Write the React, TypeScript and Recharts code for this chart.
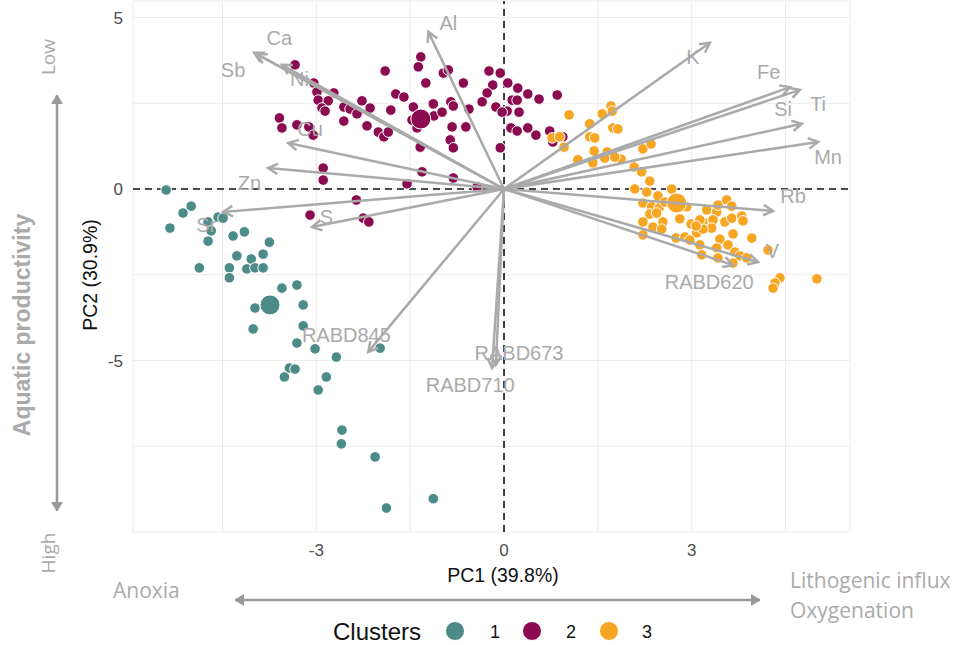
import { ScatterChart, Scatter, XAxis, YAxis, CartesianGrid, ReferenceLine } from 'recharts';

// PCA scores per cluster (PC1, PC2)
const cluster1PC1 = [-5.40, -5.00, -5.13, -5.34, -4.73, -4.57, -4.49, -4.68, -4.73, -4.33, -4.15, -3.75, -4.27, -4.04, -3.85, -4.87, -4.39, -4.11, -3.98, -3.85, -4.39, -3.55, -3.31, -3.98, -3.21, -4.01, -3.21, -3.31, -3.02, -2.68, -1.98, -3.43, -3.34, -3.51, -2.84, -2.97, -2.59, -2.60, -2.06, -1.13, -1.88];
const cluster1PC2 = [-0.03, -0.50, -0.70, -1.14, -0.96, -0.82, -0.85, -1.22, -1.52, -1.37, -1.25, -1.55, -1.95, -2.04, -1.90, -2.30, -2.30, -2.33, -2.30, -2.30, -2.59, -2.89, -2.80, -3.47, -3.38, -4.08, -3.99, -4.49, -4.66, -4.90, -4.64, -5.22, -5.25, -5.48, -5.48, -5.86, -7.03, -7.43, -7.81, -9.03, -9.30];

const cluster2PC1 = [-3.34, -3.04, -2.99, -2.72, -2.97, -2.81, -2.91, -2.86, -3.59, -3.55, -3.31, -3.12, -3.05, -2.56, -2.46, -2.35, -2.27, -2.14, -2.56, -2.19, -2.01, -1.92, -1.85, -1.81, -1.90, -1.73, -1.60, -1.45, -1.47, -1.39, -1.34, -1.33, -1.37, -1.25, -1.13, -1.12, -0.99, -0.97, -0.89, -0.85, -0.81, -0.83, -0.86, -0.81, -2.89, -2.89, -1.31, -1.55, -0.81, -2.36, -0.65, -0.24, -0.06, -0.18, -0.27, -0.35, 0.06, 0.22, 0.38, 0.56, 0.85, 0.13, 0.21, -0.13, 0.05, 0.24, -0.03, -0.56, -0.61, -0.06, 0.11, 0.21, 0.38, 0.51, 0.73, 0.78, 0.94, -0.43, -3.10, -2.25, -2.16];
const cluster2PC2 = [3.62, 3.09, 2.83, 2.80, 2.59, 2.57, 2.36, 2.27, 2.07, 1.78, 1.87, 1.81, 1.57, 2.39, 2.33, 2.19, 2.57, 2.36, 1.98, 1.84, 1.66, 1.52, 1.66, 2.30, 3.44, 2.77, 2.68, 2.39, 2.01, 1.78, 1.22, 3.85, 3.56, 3.09, 2.48, 2.13, 2.24, 3.38, 3.47, 2.54, 2.42, 1.81, 1.43, 1.20, 0.61, 0.26, 0.50, 0.15, 0.32, -0.32, 3.09, 3.44, 3.38, 3.03, 2.80, 2.54, 3.09, 2.94, 2.77, 2.62, 2.74, 2.59, 2.59, 2.39, 2.27, 2.24, 2.24, 2.33, 1.81, 1.20, 1.78, 1.69, 1.78, 1.57, 1.69, 1.37, 1.52, 0.06, -0.76, -0.85, -0.96];

const cluster3PC1 = [0.77, 0.89, 1.04, 0.96, 1.37, 1.57, 1.71, 1.73, 1.74, 1.82, 1.37, 1.45, 1.44, 1.65, 1.61, 1.18, 1.42, 1.87, 1.77, 2.22, 2.35, 2.08, 2.20, 2.33, 2.09, 2.28, 2.68, 2.46, 2.22, 2.36, 2.48, 2.33, 2.44, 2.54, 2.22, 2.38, 2.52, 2.22, 2.81, 2.75, 2.99, 3.08, 3.18, 3.24, 3.40, 3.42, 3.56, 3.64, 3.34, 3.53, 3.64, 3.80, 3.82, 3.32, 3.18, 3.45, 3.66, 3.96, 2.89, 2.97, 3.13, 3.40, 3.58, 3.69, 3.77, 3.88, 3.16, 3.42, 3.66, 4.22, 4.41, 4.33, 4.30, 5.00, 2.57, 2.92, 3.13, 3.07];
const cluster3PC2 = [1.49, 1.52, 2.16, 1.22, 1.90, 2.19, 2.42, 2.27, 1.78, 1.75, 1.52, 1.49, 1.11, 1.08, 0.90, 0.85, 0.76, 0.87, 0.93, 1.17, 1.31, 0.64, 0.50, 0.23, 0.00, -0.09, 0.00, -0.20, -0.41, -0.52, -0.55, -0.73, -0.70, -0.96, -0.96, -1.11, -1.17, -1.34, -0.87, -1.43, -1.02, -1.28, -0.96, -0.61, -0.67, -0.47, -0.32, -0.50, -0.90, -0.96, -0.85, -0.79, -0.93, -1.14, -1.17, -1.46, -1.31, -1.43, -1.40, -1.49, -1.63, -1.72, -1.63, -1.84, -1.95, -2.01, -1.92, -2.01, -2.16, -1.78, -2.59, -2.74, -2.89, -2.62, -0.38, -0.52, -0.90, -1.08];

// cluster centres
const centroidPC1 = [-3.74, -1.33, 2.76];
const centroidPC2 = [-3.38, 2.04, -0.41];

// variable loadings (arrow tips) and where their names sit
const loadingNames = ['Al', 'Ca', 'Sb', 'Ni', 'Cu', 'Zn', 'Sr', 'S', 'RABD845', 'RABD673', 'RABD710', 'K', 'Fe', 'Ti', 'Si', 'Mn', 'Rb', 'V', 'RABD620'];
const loadingPC1 = [-1.21, -3.99, -3.95, -3.55, -3.45, -3.77, -4.49, -3.07, -2.17, -0.13, -0.19, 3.29, 4.57, 4.73, 4.76, 5.02, 4.30, 4.06, 3.66];
const loadingPC2 = [4.58, 3.97, 3.93, 3.62, 1.34, 0.61, -0.67, -1.11, -4.75, -5.13, -5.22, 4.26, 2.97, 2.89, 1.90, 1.37, -0.64, -2.13, -2.22];
const labelPC1 = [-0.89, -3.59, -4.33, -3.27, -3.10, -4.07, -4.76, -2.84, -2.52, 0.24, -0.54, 3.02, 4.23, 5.02, 4.46, 5.18, 4.62, 4.29, 3.28];
const labelPC2 = [4.84, 4.40, 3.47, 3.20, 1.75, 0.18, -1.06, -0.82, -4.27, -4.78, -5.72, 3.85, 3.41, 2.49, 2.33, 0.93, -0.21, -1.80, -2.71];

const xTicks = [-4.5, -3, -1.5, 0, 1.5, 3, 4.5];
const yTicks = [-7.5, -5, -2.5, 0, 2.5, 5];
const xTickLabels = [-3, 0, 3];
const yTickLabels = [-5, 0, 5];

const clusterNames = ['1', '2', '3'];
const clusterColors = ['#4D8B89', '#8B0B50', '#F7A624'];

const toPoints = (xs: number[], ys: number[]) => xs.map((x, i) => ({ x, y: ys[i] }));

const clusters = [
  toPoints(cluster1PC1, cluster1PC2),
  toPoints(cluster2PC1, cluster2PC2),
  toPoints(cluster3PC1, cluster3PC2),
];
const centroids = toPoints(centroidPC1, centroidPC2);
const loadingLabels = loadingNames.map((name, i) => ({ name, x: labelPC1[i], y: labelPC2[i] }));

const GREY = '#aaaaaa';
const SANS = '"Liberation Sans", Arial, sans-serif';
const SOFT = '"Open Sans", "Noto Sans", sans-serif';

const dot = (color: string, r: number) => (p: any) =>
  <circle cx={p.cx} cy={p.cy} r={r} fill={color} stroke="#fff" strokeWidth={1} />;

function LoadingArrow(p: any) {
  const { x1, y1, x2, y2 } = p;
  const a = Math.atan2(y2 - y1, x2 - x1);
  const len = 11;
  const spread = 0.5;
  const ax = x2 - len * Math.cos(a - spread);
  const ay = y2 - len * Math.sin(a - spread);
  const bx = x2 - len * Math.cos(a + spread);
  const by = y2 - len * Math.sin(a + spread);
  return (
    <g>
      <line x1={x1} y1={y1} x2={x2} y2={y2} stroke={GREY} strokeWidth={2.5} />
      <polyline points={`${ax},${ay} ${x2},${y2} ${bx},${by}`} fill="none" stroke={GREY} strokeWidth={2.5} />
    </g>
  );
}

function LoadingLabel(p: any) {
  return (
    <text x={p.cx} y={p.cy} textAnchor="middle" dominantBaseline="central"
      fontFamily={SANS} fontSize={20} fill={GREY}>
      {p.payload.name}
    </text>
  );
}

function DoubleArrow({ x1, y1, x2, y2 }: { x1: number; y1: number; x2: number; y2: number }) {
  const a = Math.atan2(y2 - y1, x2 - x1);
  const head = (x: number, y: number, dir: number) => {
    const len = 10, w = 0.55;
    const p1 = `${x - len * Math.cos(dir - w)},${y - len * Math.sin(dir - w)}`;
    const p2 = `${x - len * Math.cos(dir + w)},${y - len * Math.sin(dir + w)}`;
    return <polygon points={`${x},${y} ${p1} ${p2}`} fill="#999" stroke="#999" strokeWidth={1} />;
  };
  return (
    <g>
      <line x1={x1} y1={y1} x2={x2} y2={y2} stroke="#999" strokeWidth={2.5} />
      {head(x2, y2, a)}
      {head(x1, y1, a + Math.PI)}
    </g>
  );
}

export default function App() {
  return (
    <div style={{ position: 'absolute', left: 0, top: 0, width: 966, height: 645, background: '#fff' }}>
      <ScatterChart width={966} height={645} margin={{ top: 1, right: 116, bottom: 83, left: 73 }}>
        <CartesianGrid stroke="#ebebeb" strokeWidth={1} />
        <XAxis
          type="number"
          dataKey="x"
          domain={[-5.93, 5.53]}
          allowDataOverflow
          ticks={xTicks}
          height={30}
          axisLine={false}
          tickLine={false}
          tickSize={0}
          tickMargin={12}
          tick={{ fontSize: 17, fill: '#4d4d4d', fontFamily: SANS }}
          tickFormatter={(v: number) => (xTickLabels.includes(v) ? String(v) : '')}
        />
        <YAxis
          type="number"
          dataKey="y"
          domain={[-10, 5.48]}
          allowDataOverflow
          ticks={yTicks}
          width={60}
          axisLine={false}
          tickLine={false}
          tickSize={0}
          tickMargin={10}
          tick={{ fontSize: 17, fill: '#4d4d4d', fontFamily: SANS }}
          tickFormatter={(v: number) => (yTickLabels.includes(v) ? String(v) : '')}
        />
        <ReferenceLine x={0} stroke="#111" strokeWidth={1.6} strokeDasharray="7 5" />
        <ReferenceLine y={0} stroke="#111" strokeWidth={1.6} strokeDasharray="7 5" />
        {clusters.map((pts, i) => (
          <Scatter key={clusterNames[i]} data={pts} shape={dot(clusterColors[i], 5.3)} isAnimationActive={false} />
        ))}
        {centroids.map((c, i) => (
          <Scatter key={'c' + i} data={[c]} shape={dot(clusterColors[i], 10)} isAnimationActive={false} />
        ))}
        {loadingNames.map((name, i) => (
          <ReferenceLine
            key={name}
            segment={[{ x: 0, y: 0 }, { x: loadingPC1[i], y: loadingPC2[i] }]}
            ifOverflow="visible"
            zIndex={700}
            shape={LoadingArrow}
          />
        ))}
        <Scatter data={loadingLabels} shape={LoadingLabel} isAnimationActive={false} />
      </ScatterChart>

      <svg width={966} height={645} style={{ position: 'absolute', left: 0, top: 0, pointerEvents: 'none' }}>
        <text x={503} y={582} textAnchor="middle" fontFamily={SANS} fontSize={19.5} fill="#111">PC1 (39.8%)</text>
        <text x={97} y={275} transform="rotate(-90 97 275)" textAnchor="middle" fontFamily={SANS} fontSize={19.5} fill="#111">PC2 (30.9%)</text>

        <text x={30} y={325} transform="rotate(-90 30 325)" textAnchor="middle" fontFamily={SANS} fontSize={23} fontWeight="bold" fill={GREY}>Aquatic productivity</text>
        <text x={55} y={57} transform="rotate(-90 55 57)" textAnchor="middle" fontFamily={SOFT} fontSize={19} fill={GREY}>Low</text>
        <text x={55} y={553} transform="rotate(-90 55 553)" textAnchor="middle" fontFamily={SOFT} fontSize={19} fill={GREY}>High</text>
        <DoubleArrow x1={57} y1={95} x2={57} y2={511} />

        <text x={113} y={598} fontFamily={SOFT} fontSize={21} fill={GREY}>Anoxia</text>
        <text x={790} y={588} fontFamily={SOFT} fontSize={21} fill={GREY}>Lithogenic influx</text>
        <text x={790} y={618} fontFamily={SOFT} fontSize={21} fill={GREY}>Oxygenation</text>
        <DoubleArrow x1={235} y1={600} x2={760} y2={600} />

        <text x={333} y={640} fontFamily={SANS} fontSize={24} fill="#111">Clusters</text>
        {clusterNames.map((n, i) => (
          <g key={n}>
            <circle cx={455 + i * 77} cy={631} r={9.5} fill={clusterColors[i]} stroke="#fff" strokeWidth={1} />
            <text x={490 + i * 76} y={638} fontFamily={SANS} fontSize={18} fill="#111">{n}</text>
          </g>
        ))}
      </svg>
    </div>
  );
}
